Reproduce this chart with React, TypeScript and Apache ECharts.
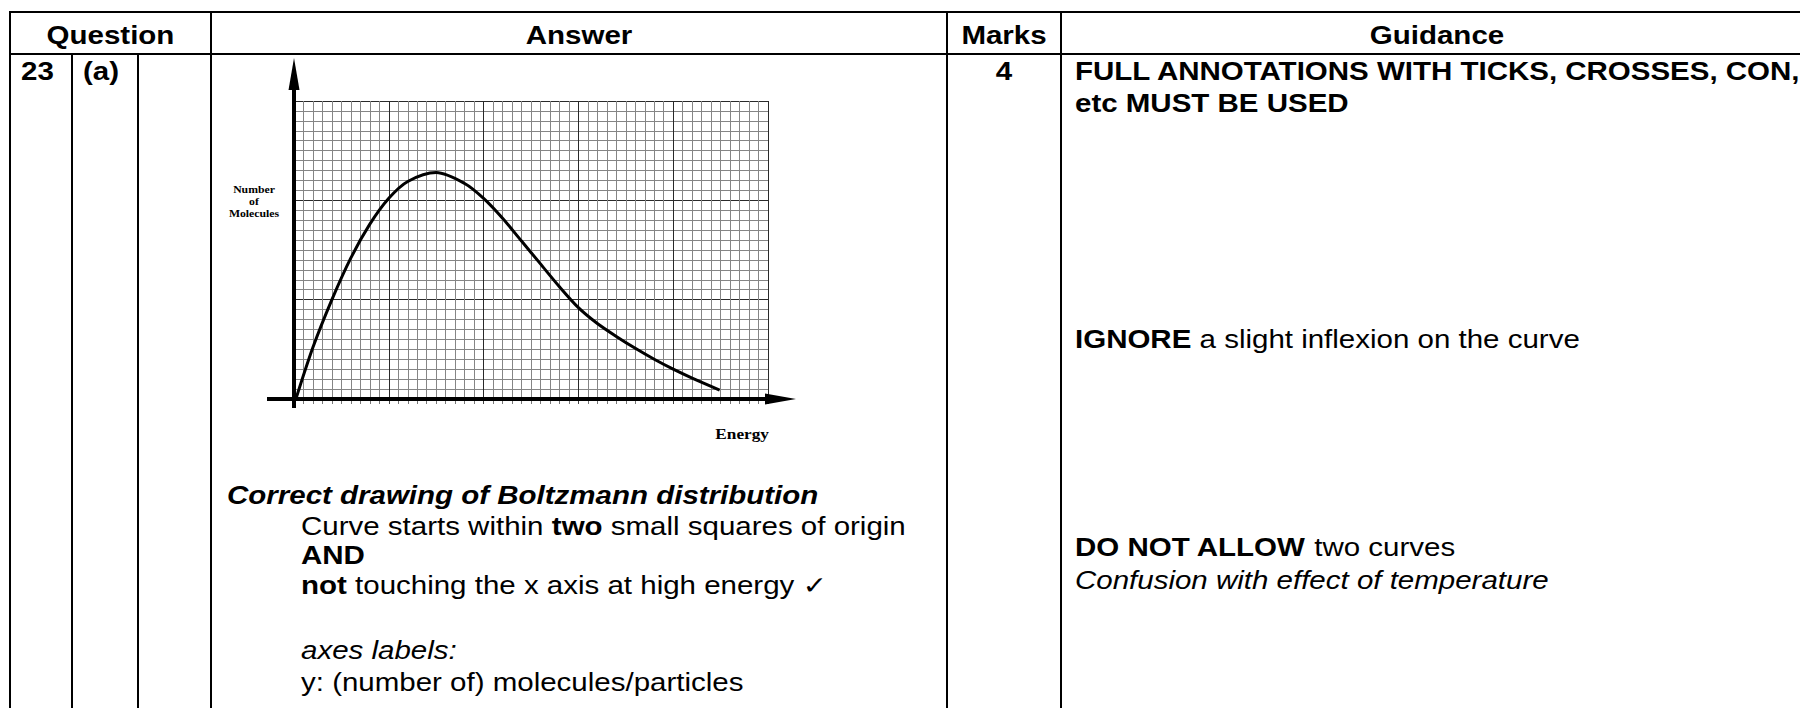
import React, { useEffect, useRef } from "react";
import * as echarts from "echarts";

// ---- chart data (grid units: x = small squares of energy, y = small squares of molecules)
const energy = [0.2, 2, 4, 6, 8, 10, 12, 15, 18, 20, 22, 24, 26, 28, 30, 32, 34, 36, 38, 40, 42, 44.9];
const molecules = [0, 5.2, 10.0, 14.2, 17.6, 20.2, 21.9, 22.8, 21.7, 20.2, 18.2, 15.9, 13.6, 11.3, 9.2, 7.6, 6.3, 5.1, 4.0, 3.0, 2.1, 0.9];
const xMax = 50;
const yMax = 30;
const majorStep = 10;
const minorSplits = 10;

// ---- table texts
const headers = ["Question", "Answer", "Marks", "Guidance"];
const questionNo = "23";
const questionPart = "(a)";
const marks = "4";
const yAxisLabel = "Number\nof\nMolecules";
const xAxisLabel = "Energy";
const guidanceLines = [
  "{b|FULL ANNOTATIONS WITH TICKS, CROSSES, CON,}",
  "{b|etc MUST BE USED}",
  "{b|IGNORE}{n| a slight inflexion on the curve}",
  "{b|DO NOT ALLOW}{n| two curves}",
  "{i|Confusion with effect of temperature}",
];
const answerHeading = "{bi|Correct drawing of Boltzmann distribution}";
const answerLines = [
  "{n|Curve starts within }{b|two}{n| small squares of origin}",
  "{b|AND}",
  "{b|not}{n| touching the x axis at high energy ✓}",
  "{i|axes labels:}",
  "{n|y: (number of) molecules/particles}",
];

const SANS = "'Liberation Sans', Arial, Helvetica, 'DejaVu Sans', sans-serif";
const SERIF = "'Liberation Serif', 'Times New Roman', 'DejaVu Serif', serif";
const FS = 25;
const SX = 1.18;

function richStyles(fs: number) {
  const base = { fontSize: fs, fontFamily: SANS, fill: "#000", lineHeight: fs };
  return {
    n: { ...base },
    b: { ...base, fontWeight: "bold" },
    i: { ...base, fontStyle: "italic" },
    bi: { ...base, fontWeight: "bold", fontStyle: "italic" },
  };
}

function txt(x: number, baseline: number, text: string, align: string = "left") {
  return {
    type: "text",
    x,
    y: baseline - 0.35 * FS,
    scaleX: SX,
    z: 60,
    silent: true,
    style: {
      text,
      rich: richStyles(FS),
      fontSize: FS,
      fontFamily: SANS,
      fill: "#000",
      align,
      verticalAlign: "middle",
      textAlign: align,
      textVerticalAlign: "middle",
    },
  };
}

function hline(x1: number, x2: number, y: number, w = 2) {
  return { type: "line", z: 60, silent: true, shape: { x1, y1: y, x2, y2: y }, style: { stroke: "#000", lineWidth: w } };
}
function vline(x: number, y1: number, y2: number, w = 2) {
  return { type: "line", z: 60, silent: true, shape: { x1: x, y1, x2: x, y2 }, style: { stroke: "#000", lineWidth: w } };
}

export default function App() {
  const ref = useRef<HTMLDivElement>(null);
  useEffect(() => {
    const chart = echarts.init(ref.current!, null, { renderer: "svg" });

    const elements: any[] = [];
    // table rules
    elements.push(hline(9, 1800, 12));
    elements.push(hline(9, 1800, 54));
    [10, 211, 947, 1061].forEach((x) => elements.push(vline(x, 11, 708)));
    [72, 138].forEach((x) => elements.push(vline(x, 54, 708)));

    // headers
    const hx = [110.5, 579, 1004, 1437];
    headers.forEach((h, i) => elements.push(txt(hx[i], 44.5, `{b|${h}}`, "center")));

    // question cells
    elements.push(txt(21, 80.5, `{b|${questionNo}}`));
    elements.push(txt(83, 80.5, `{b|${questionPart}}`));
    elements.push(txt(1004, 80.5, `{b|${marks}}`, "center"));

    // guidance
    const gy = [80.5, 112, 348, 556, 589];
    guidanceLines.forEach((g, i) => elements.push(txt(1075, gy[i], g)));

    // answer text
    elements.push(txt(227, 504, answerHeading));
    const ay = [535, 564, 594, 659, 691];
    answerLines.forEach((a, i) => elements.push(txt(301, ay[i], a)));

    // chart axes (thick with arrows)
    elements.push({ type: "line", z: 50, silent: true, shape: { x1: 294, y1: 408, x2: 294, y2: 80 }, style: { stroke: "#000", lineWidth: 4 } });
    elements.push({ type: "polygon", z: 50, silent: true, shape: { points: [[294, 58], [288.5, 90], [299.5, 90]] }, style: { fill: "#000" } });
    elements.push({ type: "line", z: 50, silent: true, shape: { x1: 267, y1: 399, x2: 770, y2: 399 }, style: { stroke: "#000", lineWidth: 4 } });
    elements.push({ type: "polygon", z: 50, silent: true, shape: { points: [[796, 399], [765, 393.5], [765, 404.5]] }, style: { fill: "#000" } });

    // chart axis labels
    elements.push({
      type: "text", x: 254, y: 201, scaleX: 1.12, z: 55, silent: true,
      style: {
        text: yAxisLabel, fontSize: 10.5, lineHeight: 12, fontWeight: "bold", fontFamily: SERIF, fill: "#000",
        align: "center", verticalAlign: "middle", textAlign: "center", textVerticalAlign: "middle",
      },
    });
    elements.push({
      type: "text", x: 769, y: 434, scaleX: 1.15, z: 55, silent: true,
      style: {
        text: xAxisLabel, fontSize: 15, fontWeight: "bold", fontFamily: SERIF, fill: "#000",
        align: "right", verticalAlign: "middle", textAlign: "right", textVerticalAlign: "middle",
      },
    });

    chart.setOption({
      animation: false,
      backgroundColor: "#fff",
      grid: { left: 294, top: 101, width: 474, height: 298, containLabel: false, outerBoundsMode: "none" },
      xAxis: {
        type: "value", min: 0, max: xMax, interval: majorStep,
        axisLine: { show: false },
        axisLabel: { show: false },
        axisTick: { show: true, length: 5, lineStyle: { color: "#444" } },
        minorTick: { show: true, splitNumber: minorSplits, length: 5, lineStyle: { color: "#777" } },
        splitLine: { show: true, lineStyle: { color: "#2a2a2a", width: 1 } },
        minorSplitLine: { show: true, lineStyle: { color: "#858585", width: 1 } },
      },
      yAxis: {
        type: "value", min: 0, max: yMax, interval: majorStep,
        axisLine: { show: false },
        axisLabel: { show: false },
        axisTick: { show: false },
        minorTick: { show: false, splitNumber: minorSplits },
        splitLine: { show: true, lineStyle: { color: "#2a2a2a", width: 1 } },
        minorSplitLine: { show: true, lineStyle: { color: "#858585", width: 1 } },
      },
      series: [
        {
          type: "line",
          data: energy.map((e, i) => [e, molecules[i]]),
          smooth: 0.3,
          showSymbol: false,
          symbol: "none",
          z: 10,
          lineStyle: { color: "#000", width: 3 },
        },
      ],
      graphic: { elements },
    });
    return () => chart.dispose();
  }, []);
  return (
    <div
      ref={ref}
      style={{ position: "absolute", left: 0, top: 0, width: 1800, height: 708, background: "#fff" }}
    />
  );
}
